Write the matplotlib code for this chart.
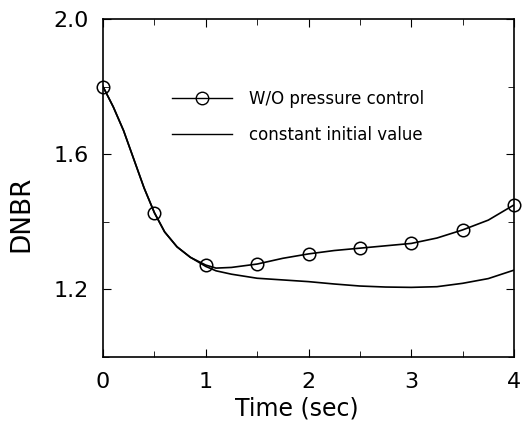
import matplotlib
matplotlib.use("Agg")
import matplotlib.pyplot as plt
from matplotlib.ticker import FixedLocator
from matplotlib.lines import Line2D

plt.rcParams['font.family'] = ['DejaVu Sans']

# W/O pressure control (line samples)
t1 = [0.0, 0.1, 0.2, 0.3, 0.4, 0.5, 0.6, 0.72, 0.85, 1.0, 1.1, 1.25, 1.5, 1.75, 2.0, 2.25, 2.5, 2.75, 3.0, 3.25, 3.5, 3.75, 4.0]
v1 = [1.80, 1.74, 1.67, 1.585, 1.50, 1.427, 1.37, 1.326, 1.295, 1.272, 1.263, 1.265, 1.275, 1.292, 1.305, 1.315, 1.322, 1.329, 1.336, 1.352, 1.376, 1.405, 1.45]
# markers
tm = [0.0, 0.5, 1.0, 1.5, 2.0, 2.5, 3.0, 3.5, 4.0]
vm = [1.80, 1.427, 1.272, 1.275, 1.305, 1.322, 1.336, 1.376, 1.45]
# constant initial value
t2 = [0.0, 0.1, 0.2, 0.3, 0.4, 0.5, 0.6, 0.72, 0.85, 1.0, 1.1, 1.25, 1.5, 1.75, 2.0, 2.25, 2.5, 2.75, 3.0, 3.25, 3.5, 3.75, 4.0]
v2 = [1.80, 1.74, 1.67, 1.585, 1.50, 1.427, 1.37, 1.326, 1.295, 1.268, 1.255, 1.245, 1.233, 1.228, 1.223, 1.216, 1.21, 1.207, 1.206, 1.208, 1.218, 1.232, 1.257]

fig = plt.figure(figsize=(5.25, 4.44), dpi=100)
ax = fig.add_axes([103/525, 1-357/444, (514-103)/525, (357-19)/444])

ax.plot(t1, v1, color='black', lw=1.2)
ax.plot(t2, v2, color='black', lw=1.2)
ax.plot(tm, vm, linestyle='none', marker='o', ms=9, mfc='none', mec='black', mew=1.1, clip_on=False)

ax.set_xlim(0, 4)
ax.set_ylim(1.0, 2.0)
ax.set_xticks([0, 1, 2, 3, 4])
ax.xaxis.set_minor_locator(FixedLocator([0.5, 1.5, 2.5, 3.5]))
ax.set_yticks([1.2, 1.6, 2.0])
ax.set_yticklabels(['1.2', '1.6', '2.0'])
ax.yaxis.set_minor_locator(FixedLocator([1.0, 1.4, 1.8]))
ax.tick_params(which='both', direction='in', top=True, right=True, labelsize=16)
ax.tick_params(axis='x', which='major', pad=11)
ax.tick_params(axis='y', which='major', pad=10)
ax.tick_params(which='major', length=6)
ax.tick_params(which='minor', length=4)
for s in ax.spines.values():
    s.set_linewidth(1.2)

ax.set_xlabel('Time (sec)', fontsize=17)
ax.xaxis.set_label_coords(0.472, -0.118)
ax.set_ylabel('DNBR', fontsize=19)
ax.yaxis.set_label_coords(-0.168, 0.423)

h1 = Line2D([], [], color='black', lw=1.0, marker='o', ms=9, mfc='none', mec='black')
h2 = Line2D([], [], color='black', lw=1.0)
ax.legend([h1, h2], ['W/O pressure control', 'constant initial value'],
          loc='center left', bbox_to_anchor=(0.168, 0.71), frameon=False, fontsize=12,
          handlelength=3.6, labelspacing=1.05, handletextpad=1.0,
          borderpad=0, borderaxespad=0)

fig.savefig('out.png', dpi=100)
